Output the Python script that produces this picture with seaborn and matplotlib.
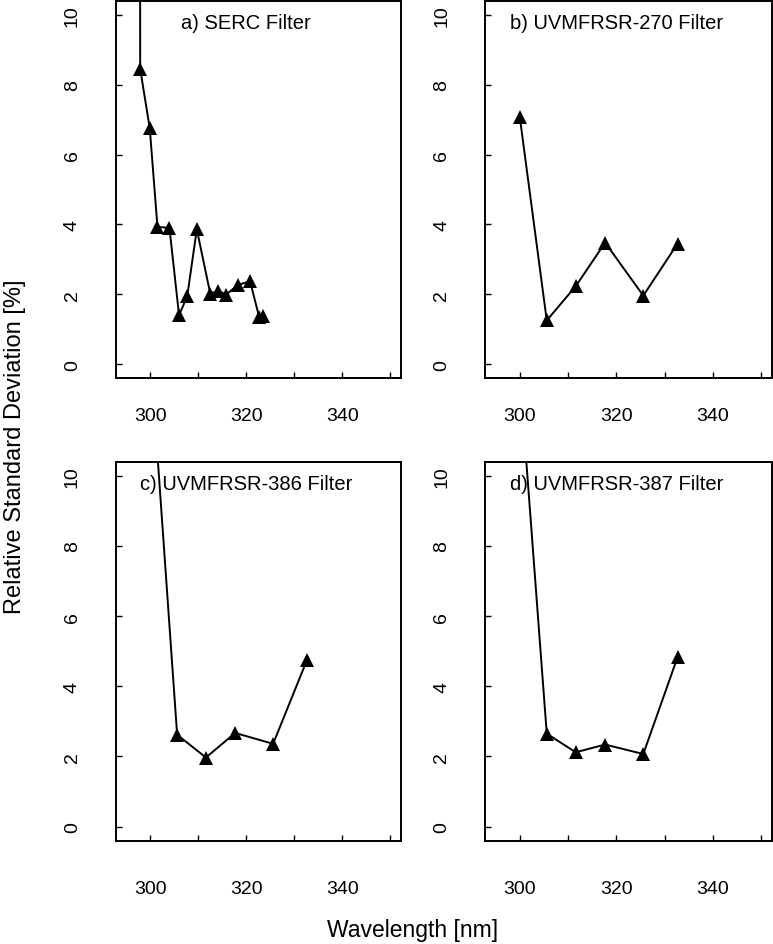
import pandas as pd
import seaborn as sns
import matplotlib.pyplot as plt

# wavelengths [nm] and relative standard deviation [%]
serc_wl = [297.8, 297.9, 299.9, 301.5, 304.0, 306.0, 307.7, 309.7, 312.5,
           314.2, 315.8, 318.3, 320.8, 322.7, 323.6]
serc_rsd = [30.0, 8.46, 6.75, 3.93, 3.90, 1.40, 1.94, 3.86, 2.02,
            2.10, 1.99, 2.27, 2.37, 1.35, 1.37]

uv_wl = [300.0, 305.6, 311.6, 317.7, 325.6, 332.7]
uv270_rsd = [7.09, 1.25, 2.23, 3.48, 1.96, 3.45]
uv386_rsd = [13.5, 2.62, 1.97, 2.67, 2.36, 4.76]
uv387_rsd = [12.9, 2.65, 2.12, 2.34, 2.07, 4.83]

titles = ['a) SERC Filter', 'b) UVMFRSR-270 Filter',
          'c) UVMFRSR-386 Filter', 'd) UVMFRSR-387 Filter']
x_ticks = [300, 310, 320, 330, 340, 350]
x_ticklabels = ['300', '', '320', '', '340', '']
y_ticks = [0, 2, 4, 6, 8, 10]

panels = [
    pd.DataFrame({'Wavelength': serc_wl, 'RSD': serc_rsd}),
    pd.DataFrame({'Wavelength': uv_wl, 'RSD': uv270_rsd}),
    pd.DataFrame({'Wavelength': uv_wl, 'RSD': uv386_rsd}),
    pd.DataFrame({'Wavelength': uv_wl, 'RSD': uv387_rsd}),
]

sns.set_theme(style='ticks')
plt.rcParams['font.family'] = ['Liberation Sans', 'DejaVu Sans']
plt.rcParams['axes.linewidth'] = 1.4
plt.rcParams['text.color'] = 'black'
plt.rcParams['xtick.color'] = 'black'
plt.rcParams['ytick.color'] = 'black'
plt.rcParams['xtick.labelcolor'] = 'black'
plt.rcParams['ytick.labelcolor'] = 'black'

fig = plt.figure(figsize=(7.73, 9.45), dpi=100)

# [left, bottom, width, height] in figure fractions
positions = [
    [0.1497, 0.5989, 0.3687, 0.3989],
    [0.6274, 0.5989, 0.3709, 0.3989],
    [0.1497, 0.1093, 0.3687, 0.4011],
    [0.6274, 0.1093, 0.3709, 0.4011],
]

for i, (df, title, pos) in enumerate(zip(panels, titles, positions)):
    ax = fig.add_axes(pos)
    sns.lineplot(data=df, x='Wavelength', y='RSD', ax=ax, sort=False,
                 color='black', linewidth=1.4, marker='^', markersize=10.5,
                 markeredgewidth=0, markerfacecolor='black')
    ax.set_xlim(292.8, 352.2)
    ax.set_ylim(-0.4, 10.4)
    ax.set_xticks(x_ticks)
    ax.set_xticklabels(x_ticklabels)
    ax.set_yticks(y_ticks)
    ax.set_yticklabels([str(t) for t in y_ticks], rotation=90, va='center')
    xpad = 21 if i < 2 else 28
    ax.tick_params(axis='x', direction='in', length=4.5, width=1,
                   pad=xpad, labelsize=14)
    ax.tick_params(axis='y', direction='in', length=4.5, width=1,
                   pad=25, labelsize=14)
    ax.set_xlabel('')
    ax.set_ylabel('')
    for sp in ax.spines.values():
        sp.set_visible(True)
        sp.set_color('black')
    ax.text(320, 9.78, title, ha='center', va='center', fontsize=14.5)

fig.text(0.534, 0.015, 'Wavelength [nm]', ha='center', va='center', fontsize=16.5)
fig.text(0.020, 0.527, 'Relative Standard Deviation [%]', ha='center',
         va='center', rotation=90, fontsize=17)

plt.savefig('out.png', dpi=100)
